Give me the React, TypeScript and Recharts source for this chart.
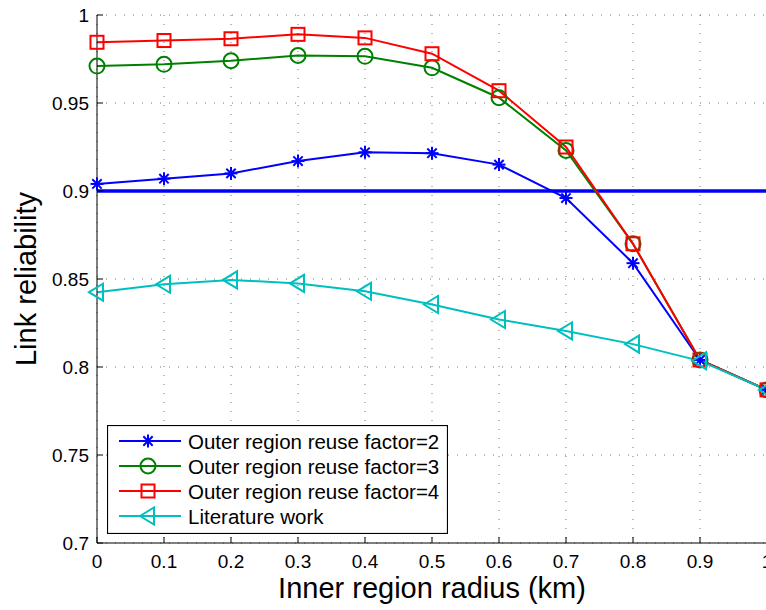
import { ComposedChart, Line, XAxis, YAxis, CartesianGrid, ReferenceLine, Legend } from "recharts";

const radius = [0, 0.1, 0.2, 0.3, 0.4, 0.5, 0.6, 0.7, 0.8, 0.9, 1];
const reuse2 = [0.904, 0.907, 0.910, 0.917, 0.922, 0.9215, 0.915, 0.896, 0.859, 0.804, 0.787];
const reuse3 = [0.971, 0.972, 0.974, 0.977, 0.9765, 0.970, 0.953, 0.923, 0.870, 0.804, 0.787];
const reuse4 = [0.9845, 0.9855, 0.9865, 0.989, 0.987, 0.978, 0.957, 0.925, 0.870, 0.804, 0.787];
const literature = [0.8425, 0.847, 0.8495, 0.8475, 0.843, 0.8355, 0.827, 0.8205, 0.813, 0.8035, 0.787];
const threshold = 0.9;
const xTicks = [0, 0.1, 0.2, 0.3, 0.4, 0.5, 0.6, 0.7, 0.8, 0.9, 1];
const yTicks = [0.7, 0.75, 0.8, 0.85, 0.9, 0.95, 1];
const seriesNames = [
  "Outer region reuse factor=2",
  "Outer region reuse factor=3",
  "Outer region reuse factor=4",
  "Literature work",
];

const data = radius.map((r, i) => ({
  r,
  reuse2: reuse2[i],
  reuse3: reuse3[i],
  reuse4: reuse4[i],
  literature: literature[i],
}));

const FONT = "'Liberation Sans', Arial, Helvetica, sans-serif";
const BLUE = "#0000ff";
const GREEN = "#008000";
const RED = "#ff0000";
const CYAN = "#00bfbf";

const fmt = (v: number) => String(+v.toFixed(2));

const Marker = ({ kind, cx, cy, color }: { kind: string; cx: number; cy: number; color: string }) => {
  if (kind === "star") {
    const r = 6.5;
    const d = r * 0.72;
    return (
      <g stroke={color} strokeWidth={2} fill="none">
        <line x1={cx - r} y1={cy} x2={cx + r} y2={cy} />
        <line x1={cx} y1={cy - r} x2={cx} y2={cy + r} />
        <line x1={cx - d} y1={cy - d} x2={cx + d} y2={cy + d} />
        <line x1={cx - d} y1={cy + d} x2={cx + d} y2={cy - d} />
      </g>
    );
  }
  if (kind === "circle") {
    return <circle cx={cx} cy={cy} r={7.5} stroke={color} strokeWidth={2} fill="none" />;
  }
  if (kind === "square") {
    return <rect x={cx - 6.5} y={cy - 6.5} width={13} height={13} stroke={color} strokeWidth={2} fill="none" />;
  }
  return (
    <polygon
      points={`${cx - 8},${cy} ${cx + 6},${cy - 8.5} ${cx + 6},${cy + 8.5}`}
      stroke={color}
      strokeWidth={2}
      fill="none"
    />
  );
};

const dotFor = (kind: string, color: string) => (props: any) => {
  const { cx, cy, index } = props;
  if (cx == null || cy == null) return <g key={`d-${kind}-${index}`} />;
  return (
    <g key={`d-${kind}-${index}`}>
      <Marker kind={kind} cx={cx} cy={cy} color={color} />
    </g>
  );
};

const legendRows = [
  { name: seriesNames[0], color: BLUE, kind: "star" },
  { name: seriesNames[1], color: GREEN, kind: "circle" },
  { name: seriesNames[2], color: RED, kind: "square" },
  { name: seriesNames[3], color: CYAN, kind: "tri" },
];

const LegendBox = () => (
  <svg width={341} height={109} style={{ display: "block" }}>
    <rect x={0.5} y={0.5} width={340} height={108} fill="#fff" stroke="#000" strokeWidth={1.2} />
    {legendRows.map((row, i) => {
      const y = 16 + i * 25;
      return (
        <g key={row.name}>
          <line x1={12} y1={y} x2={74} y2={y} stroke={row.color} strokeWidth={2} />
          <Marker kind={row.kind} cx={41} cy={y} color={row.color} />
          <text x={81} y={y + 7.5} fontSize={20.5} fontFamily={FONT} fill="#000">
            {row.name}
          </text>
        </g>
      );
    })}
  </svg>
);

const XTitle = ({ viewBox }: any) => (
  <text
    x={viewBox.x + viewBox.width / 2}
    y={598}
    textAnchor="middle"
    fontSize={29}
    fontFamily={FONT}
    fill="#000"
  >
    Inner region radius (km)
  </text>
);

const YTitle = ({ viewBox }: any) => {
  const cy = viewBox.y + viewBox.height / 2;
  return (
    <text
      x={36}
      y={cy}
      transform={`rotate(-90, 36, ${cy})`}
      textAnchor="middle"
      fontSize={29}
      fontFamily={FONT}
      fill="#000"
    >
      Link reliability
    </text>
  );
};

export default function App() {
  return (
    <div style={{ position: "absolute", left: 0, top: 0, width: 766, height: 610, overflow: "hidden", background: "#fff" }}>
      <ComposedChart width={780} height={610} data={data} margin={{ top: 15, right: 13, bottom: 0, left: 0 }}>
        <CartesianGrid stroke="#777" strokeDasharray="1 8" strokeWidth={1} />
        <XAxis
          dataKey="r"
          type="number"
          domain={[0, 1]}
          ticks={xTicks}
          interval={0}
          tickFormatter={fmt}
          height={67}
          tickSize={-6}
          tickMargin={18}
          axisLine={{ stroke: "#000" }}
          tickLine={{ stroke: "#000" }}
          tick={{ fill: "#000", fontSize: 19, fontFamily: FONT }}
          label={<XTitle />}
        />
        <XAxis
          xAxisId="top"
          dataKey="r"
          type="number"
          orientation="top"
          domain={[0, 1]}
          ticks={xTicks}
          interval={0}
          height={0}
          tickSize={-6}
          tick={false}
          axisLine={{ stroke: "#000" }}
          tickLine={{ stroke: "#000" }}
        />
        <YAxis
          type="number"
          domain={[0.7, 1]}
          ticks={yTicks}
          interval={0}
          allowDataOverflow
          tickFormatter={fmt}
          width={97}
          tickSize={-6}
          tickMargin={14}
          axisLine={{ stroke: "#000" }}
          tickLine={{ stroke: "#000" }}
          tick={{ fill: "#000", fontSize: 19, fontFamily: FONT }}
          label={<YTitle />}
        />
        <ReferenceLine y={threshold} stroke={BLUE} strokeWidth={3.5} />
        <Line dataKey="reuse2" name={seriesNames[0]} type="linear" stroke={BLUE} strokeWidth={2} dot={dotFor("star", BLUE)} activeDot={false} isAnimationActive={false} />
        <Line dataKey="reuse3" name={seriesNames[1]} type="linear" stroke={GREEN} strokeWidth={2} dot={dotFor("circle", GREEN)} activeDot={false} isAnimationActive={false} />
        <Line dataKey="reuse4" name={seriesNames[2]} type="linear" stroke={RED} strokeWidth={2} dot={dotFor("square", RED)} activeDot={false} isAnimationActive={false} />
        <Line dataKey="literature" name={seriesNames[3]} type="linear" stroke={CYAN} strokeWidth={2} dot={dotFor("tri", CYAN)} activeDot={false} isAnimationActive={false} />
        <Legend
          layout="vertical"
          align="center"
          verticalAlign="middle"
          content={() => <LegendBox />}
          wrapperStyle={{ position: "absolute", left: 107, top: 425, width: 341, height: 109 }}
        />
      </ComposedChart>
    </div>
  );
}
